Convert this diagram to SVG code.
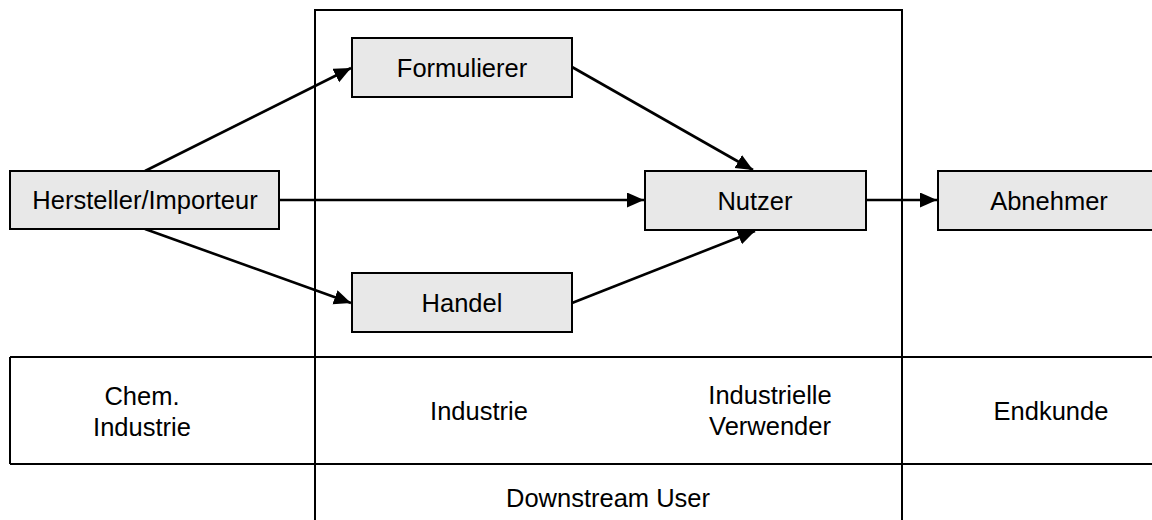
<svg xmlns="http://www.w3.org/2000/svg" width="1152" height="520" viewBox="0 0 1152 520">
  <style>
    .box { fill: #e8e8e8; stroke: #000; stroke-width: 2; }
    .rule { stroke: #000; stroke-width: 2; fill: none; }
    .edge { stroke: #000; stroke-width: 2.6; fill: none; }
    text { font-family: "Liberation Sans", Arial, sans-serif; font-size: 25.5px; fill: #000; text-anchor: middle; }
  </style>
  <defs>
    <marker id="arrow" markerUnits="userSpaceOnUse" markerWidth="18" markerHeight="16" refX="17" refY="7.5" orient="auto">
      <path d="M0,0 L17,7.5 L0,15 z" fill="#000"/>
    </marker>
  </defs>

  <rect width="1152" height="520" fill="#fff"/>

  <!-- Frame: downstream user column and role table -->
  <g id="frame">
    <polyline class="rule" points="315,520 315,10 902,10 902,520"/>
    <line class="rule" x1="10" y1="357" x2="1152" y2="357"/>
    <line class="rule" x1="10" y1="464" x2="1152" y2="464"/>
    <line class="rule" x1="10" y1="357" x2="10" y2="464"/>
  </g>

  <!-- Connectors -->
  <g id="connectors">
    <line class="edge" x1="145" y1="171" x2="351" y2="68" marker-end="url(#arrow)"/>
    <line class="edge" x1="279" y1="200" x2="644" y2="200" marker-end="url(#arrow)"/>
    <line class="edge" x1="145" y1="229" x2="351" y2="303" marker-end="url(#arrow)"/>
    <line class="edge" x1="572" y1="67" x2="753" y2="170" marker-end="url(#arrow)"/>
    <line class="edge" x1="572" y1="303" x2="755" y2="231" marker-end="url(#arrow)"/>
    <line class="edge" x1="866" y1="200" x2="937" y2="200" marker-end="url(#arrow)"/>
  </g>

  <!-- Nodes -->
  <g id="hersteller">
    <rect class="box" x="10" y="171" width="269" height="58"/>
    <text x="145" y="209">Hersteller/Importeur</text>
  </g>
  <g id="formulierer">
    <rect class="box" x="352" y="38" width="220" height="59"/>
    <text x="462" y="77">Formulierer</text>
  </g>
  <g id="handel">
    <rect class="box" x="352" y="273" width="220" height="59"/>
    <text x="462" y="312">Handel</text>
  </g>
  <g id="nutzer">
    <rect class="box" x="645" y="171" width="221" height="59"/>
    <text x="755" y="210">Nutzer</text>
  </g>
  <g id="abnehmer">
    <rect class="box" x="938" y="171" width="221" height="59"/>
    <text x="1049" y="210">Abnehmer</text>
  </g>

  <!-- Role labels -->
  <g id="labels">
    <text x="142" y="405">Chem.</text>
    <text x="142" y="436">Industrie</text>
    <text x="479" y="420">Industrie</text>
    <text x="770" y="404">Industrielle</text>
    <text x="770" y="435">Verwender</text>
    <text x="1051" y="420">Endkunde</text>
    <text x="608" y="507">Downstream User</text>
  </g>
</svg>
